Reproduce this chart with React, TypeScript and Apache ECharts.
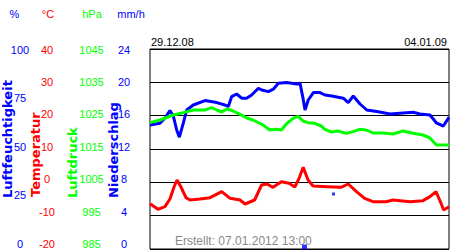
import React, { useEffect, useRef } from 'react';
import * as echarts from 'echarts';

// time in hours since 29.12.08 00:00
const humTimes = [0, 5.6, 8.4, 11.2, 13.1, 15.0, 16.5, 18.7, 20.6, 24.3, 30.9, 37.5, 42.1, 44.0, 45.9, 48.7, 51.5, 54.3, 57.1, 60.9, 62.8, 66.5, 69.3, 72.1, 76.8, 82.4, 84.3, 85.8, 87.1, 88.9, 91.8, 95.5, 98.3, 102.1, 108.6, 111.4, 114.2, 118.0, 121.8, 127.4, 134.9, 147.9, 151.7, 157.3, 161.1, 164.8, 168.0];
const humValues = [62.0, 62.9, 65.5, 69.2, 66.5, 59.5, 55.9, 62.9, 69.5, 72.0, 74.2, 73.2, 72.0, 71.2, 76.2, 77.5, 75.4, 75.4, 77.0, 80.4, 79.5, 78.7, 79.9, 82.9, 83.2, 82.5, 82.9, 76.2, 69.5, 74.5, 78.2, 78.2, 77.0, 76.5, 75.4, 73.2, 76.5, 72.5, 69.5, 68.7, 67.5, 68.4, 67.5, 67.0, 62.9, 61.5, 65.9];

const pressTimes = [0, 5.6, 13.1, 18.7, 24.3, 30.9, 34.7, 37.5, 40.3, 43.1, 46.8, 50.6, 54.3, 57.9, 63.5, 67.3, 71.0, 73.8, 76.6, 80.4, 83.2, 86.0, 88.8, 92.5, 96.3, 98.2, 101.9, 105.6, 110.3, 114.1, 117.8, 121.5, 125.3, 130.9, 136.5, 142.2, 147.8, 153.4, 157.3, 160.9, 168.0];
const pressValues = [1022.9, 1023.7, 1025.2, 1025.9, 1026.7, 1026.7, 1027.4, 1026.7, 1026.1, 1027.0, 1026.4, 1025.4, 1024.3, 1023.7, 1022.2, 1020.7, 1020.9, 1020.7, 1022.5, 1024.2, 1024.8, 1023.4, 1022.9, 1022.7, 1021.9, 1020.9, 1020.1, 1020.4, 1019.7, 1020.2, 1020.9, 1020.7, 1019.8, 1019.8, 1019.5, 1020.4, 1019.7, 1019.2, 1018.3, 1016.2, 1016.2];

const tempTimes = [0, 4.5, 8.4, 11.2, 13.5, 15.2, 17.4, 20.2, 22.5, 28.1, 33.7, 40.3, 45.0, 50.6, 53.4, 58.8, 62.7, 65.7, 69.1, 73.8, 78.1, 81.4, 84.0, 86.1, 88.8, 91.6, 99.5, 107.3, 111.4, 116.0, 120.6, 125.3, 132.6, 136.5, 146.1, 153.4, 157.3, 160.7, 163.0, 165.0, 168.0];
const tempValues = [-6.4, -8.1, -7.3, -5.0, -1.4, 0.7, -1.4, -4.6, -5.3, -5.0, -4.6, -2.8, -4.8, -5.3, -6.5, -5.3, -0.8, -0.5, -1.5, 0.2, -0.3, -1.4, 1.5, 4.5, 0.7, -1.1, -1.3, -1.5, -0.5, -2.8, -4.8, -5.8, -5.8, -5.3, -5.8, -5.5, -4.3, -2.8, -5.6, -8.3, -7.3];

const precipTimes = [86.8, 103.1];
const precipValues = [0.24, 6.6];

const startLabel = '29.12.08';
const endLabel = '04.01.09';
const createdLabel = 'Erstellt: 07.01.2012 13:00';

const BLUE = '#0000ff';
const RED = '#ff0000';
const GREEN = '#00ff00';
const FONT = '"Liberation Sans", Arial, sans-serif';
const TITLE_FONT = 'bold 13px "DejaVu Sans"';

export default function App() {
  const ref = useRef<HTMLDivElement>(null);
  useEffect(() => {
    const chart = echarts.init(ref.current!, null, { renderer: 'svg' });
    const zip = (t: number[], v: number[]) => t.map((x, i) => [x, v[i]]);
    const labelAxis = (min: number, max: number, interval: number, color: string, offset: number) => ({
      gridIndex: 1,
      type: 'value',
      min,
      max,
      interval,
      position: 'left',
      offset,
      axisLine: { show: false },
      axisTick: { show: false },
      splitLine: { show: false },
      axisLabel: {
        show: true,
        color,
        fontSize: 11,
        fontFamily: FONT,
        align: 'center',
        margin: 0,
        showMinLabel: true,
        showMaxLabel: true,
        formatter: (v: number) => String(v),
      },
    });
    const hiddenAxis = (min: number, max: number) => ({ gridIndex: 0, type: 'value', min, max, show: false });
    const txt = (text: string, x: number, y: number, fill: string, align: string, font = `11px ${FONT}`) => ({
      type: 'text',
      x,
      y,
      silent: true,
      style: { text, fill, font, align, verticalAlign: 'middle', textAlign: align, textVerticalAlign: 'middle' },
    });
    const vtxt = (text: string, x: number, y: number, fill: string) => ({
      type: 'text',
      x,
      y,
      rotation: Math.PI / 2,
      silent: true,
      style: { text, fill, font: TITLE_FONT, align: 'left', verticalAlign: 'middle', textAlign: 'left', textVerticalAlign: 'middle' },
    });
    chart.setOption({
      animation: false,
      backgroundColor: '#fff',
      grid: [
        { left: 150, top: 49, width: 299, height: 200, show: true, borderColor: '#000', borderWidth: 1, backgroundColor: '#fff' },
        { left: 150, top: 49.5, width: 299, height: 194.5, show: false },
      ],
      xAxis: [
        { gridIndex: 0, type: 'value', min: 0, max: 168, show: false },
        { gridIndex: 1, type: 'value', min: 0, max: 168, show: false },
      ],
      yAxis: [
        hiddenAxis(0, 100),
        {
          gridIndex: 0,
          type: 'value',
          min: -20,
          max: 40,
          interval: 10,
          axisLine: { show: false },
          axisTick: { show: false },
          axisLabel: { show: false },
          splitLine: { show: true, lineStyle: { color: '#000', width: 1 } },
        },
        hiddenAxis(985, 1045),
        hiddenAxis(0, 24),
        labelAxis(0, 100, 25, BLUE, 130),
        labelAxis(-20, 40, 10, RED, 103),
        labelAxis(985, 1045, 10, GREEN, 58.5),
        labelAxis(0, 24, 4, BLUE, 26),
      ],
      series: [
        {
          type: 'line',
          name: 'Luftfeuchtigkeit',
          xAxisIndex: 0,
          yAxisIndex: 0,
          data: zip(humTimes, humValues),
          showSymbol: false,
          lineStyle: { color: BLUE, width: 3 },
          itemStyle: { color: BLUE },
        },
        {
          type: 'line',
          name: 'Luftdruck',
          xAxisIndex: 0,
          yAxisIndex: 2,
          data: zip(pressTimes, pressValues),
          showSymbol: false,
          lineStyle: { color: GREEN, width: 3 },
          itemStyle: { color: GREEN },
        },
        {
          type: 'line',
          name: 'Temperatur',
          xAxisIndex: 0,
          yAxisIndex: 1,
          data: zip(tempTimes, tempValues),
          showSymbol: false,
          lineStyle: { color: RED, width: 3 },
          itemStyle: { color: RED },
        },
        {
          type: 'scatter',
          name: 'Niederschlag',
          xAxisIndex: 0,
          yAxisIndex: 3,
          data: zip(precipTimes, precipValues),
          symbol: 'rect',
          symbolSize: (v: number[]) => (v[1] < 1 ? 5 : 3),
          itemStyle: { color: BLUE },
        },
      ],
      graphic: [
        txt('%', 14.5, 14, BLUE, 'center'),
        txt('°C', 48, 14, RED, 'center'),
        txt('hPa', 92, 14, GREEN, 'center'),
        txt('mm/h', 131, 14, BLUE, 'center'),
        vtxt('Luftfeuchtigkeit', 7, 198, BLUE),
        vtxt('Temperatur', 35.5, 197, RED),
        vtxt('Luftdruck', 72, 198, GREEN),
        vtxt('Niederschlag', 113, 198, BLUE),
        txt(startLabel, 151, 42, '#000', 'left'),
        txt(endLabel, 447, 42, '#000', 'right'),
        txt(createdLabel, 175, 240.5, '#888', 'left', `12px ${FONT}`),
      ],
    });
    return () => chart.dispose();
  }, []);
  return <div ref={ref} style={{ position: 'absolute', left: 0, top: 0, width: 450, height: 250 }} />;
}
